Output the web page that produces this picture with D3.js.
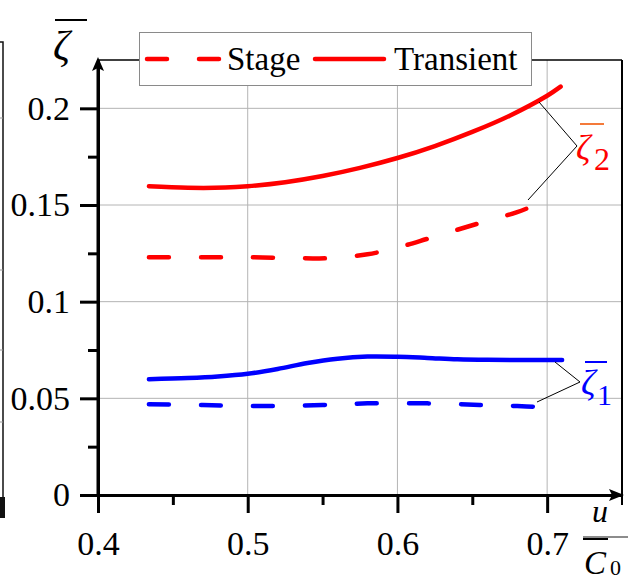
<!DOCTYPE html>
<html>
<head>
<meta charset="utf-8">
<script src="https://cdn.jsdelivr.net/npm/d3@7"></script>
<style>
  body { margin: 0; background: #fff; }
  svg { display: block; }
  svg text { font-family: "Liberation Serif", "Times New Roman", serif; }
</style>
</head>
<body>
<div id="chart-area"></div>
<script>
// values
const xMajor = [0.4, 0.5, 0.6, 0.7];
const xMinor = [0.45, 0.55, 0.65];
const yMajor = [0, 0.05, 0.1, 0.15, 0.2];
const yMinor = [0.025, 0.075, 0.125, 0.175];
const yLabels = ["0", "0.05", "0.1", "0.15", "0.2"];

const transient2X = [0.434, 0.46, 0.485, 0.5, 0.525, 0.55, 0.575, 0.6, 0.625, 0.65, 0.675, 0.7, 0.709];
const transient2Y = [0.1597, 0.1589, 0.159, 0.1597, 0.1618, 0.165, 0.1692, 0.1743, 0.1805, 0.1878, 0.1962, 0.2065, 0.2112];
const stage2X = [0.434, 0.47, 0.5, 0.53, 0.555, 0.58, 0.6, 0.62, 0.64, 0.66, 0.68, 0.6906];
const stage2Y = [0.123, 0.123, 0.123, 0.1226, 0.1225, 0.1245, 0.128, 0.1325, 0.1372, 0.1418, 0.1463, 0.1495];
const transient1X = [0.434, 0.46, 0.48, 0.5, 0.52, 0.54, 0.56, 0.58, 0.6, 0.62, 0.64, 0.66, 0.71];
const transient1Y = [0.0599, 0.0605, 0.0613, 0.0627, 0.0652, 0.0683, 0.0705, 0.0716, 0.0715, 0.0709, 0.0702, 0.0699, 0.0698];
const stage1X = [0.434, 0.47, 0.51, 0.55, 0.58, 0.62, 0.655, 0.68, 0.6966];
const stage1Y = [0.047, 0.0465, 0.046, 0.0465, 0.0474, 0.0474, 0.0466, 0.046, 0.0455];

const W = 637, H = 586;
const svg = d3.select("#chart-area").append("svg")
    .attr("width", W)
    .attr("height", H);

const x = d3.scaleLinear().domain([0.4, 0.75]).range([98, 622]);
const y = d3.scaleLinear().domain([0, 0.225]).range([495, 60]);

// bit of the neighbouring figure on the left edge
svg.append("path").attr("d", "M0,42H3V508").attr("fill", "none").attr("stroke", "#111").attr("stroke-width", 1.5);
svg.append("rect").attr("x", 0).attr("y", 497).attr("width", 5).attr("height", 21).attr("fill", "#111");
[118, 270, 350, 422].forEach(function (v) {
    svg.append("line").attr("x1", 0).attr("x2", 3).attr("y1", v).attr("y2", v).attr("stroke", "#999");
});

// grid
svg.append("g").selectAll("line").data(yMajor.slice(1)).enter().append("line")
    .attr("x1", x(0.4)).attr("x2", x(0.75))
    .attr("y1", d => y(d)).attr("y2", d => y(d))
    .attr("stroke", "#b4b4b4").attr("stroke-width", 1);
svg.append("g").selectAll("line").data(xMajor.slice(1)).enter().append("line")
    .attr("x1", d => x(d)).attr("x2", d => x(d))
    .attr("y1", y(0)).attr("y2", y(0.225))
    .attr("stroke", "#b4b4b4").attr("stroke-width", 1);

// frame top + right
svg.append("line").attr("x1", x(0.4)).attr("x2", x(0.75)).attr("y1", 60).attr("y2", 60)
    .attr("stroke", "#000").attr("stroke-width", 1.5);
svg.append("line").attr("x1", x(0.75)).attr("x2", x(0.75)).attr("y1", 60).attr("y2", 505)
    .attr("stroke", "#000").attr("stroke-width", 2);

// curves
const line = d3.line().x(d => x(d[0])).y(d => y(d[1])).curve(d3.curveCatmullRom.alpha(0.5));
const DASH = "20,32";
function curve(xs, ys, color, dashed) {
    svg.append("path")
        .datum(d3.zip(xs, ys))
        .attr("d", line)
        .attr("fill", "none")
        .attr("stroke", color)
        .attr("stroke-width", 4.5)
        .attr("stroke-linecap", "round")
        .attr("stroke-dasharray", dashed ? DASH : null);
}
curve(transient2X, transient2Y, "#ff0000", false);
curve(stage2X, stage2Y, "#ff0000", true);
curve(transient1X, transient1Y, "#0000ff", false);
curve(stage1X, stage1Y, "#0000ff", true);

// axes
svg.append("g").attr("transform", "translate(0," + y(0) + ")")
    .call(d3.axisBottom(x).tickValues(xMajor).tickSize(18).tickSizeOuter(0).tickPadding(18).tickFormat(d3.format(".1f")));
svg.append("g").attr("transform", "translate(0," + y(0) + ")")
    .call(d3.axisBottom(x).tickValues(xMinor).tickSize(10).tickSizeOuter(0).tickFormat(""));
svg.append("g").attr("transform", "translate(" + x(0.4) + ",0)")
    .call(d3.axisLeft(y).tickValues(yMajor).tickSize(18).tickSizeOuter(0).tickPadding(10).tickFormat((d, i) => yLabels[i]));
svg.append("g").attr("transform", "translate(" + x(0.4) + ",0)")
    .call(d3.axisLeft(y).tickValues(yMinor).tickSize(10).tickSizeOuter(0).tickFormat(""));

svg.selectAll("g").attr("font-family", null).attr("font-size", null);
svg.selectAll(".domain").attr("stroke", "#000").attr("stroke-width", 3);
svg.selectAll(".tick line").attr("stroke", "#000").attr("stroke-width", 3);
svg.selectAll(".tick text")
    .style("font-family", "'Liberation Serif', 'Times New Roman', serif")
    .style("font-size", "34px").attr("fill", "#000");

// extend y axis up to the arrow, arrow heads
svg.append("line").attr("x1", x(0.4)).attr("x2", x(0.4)).attr("y1", y(0)).attr("y2", 66)
    .attr("stroke", "#000").attr("stroke-width", 3);
svg.append("path").attr("d", "M98,57 L104,71 L98,68 L92,71 Z").attr("fill", "#000");
svg.append("path").attr("d", "M624,495 L609,489 L612,495 L609,501 Z").attr("fill", "#000");

// legend
const lg = svg.append("g");
lg.append("rect").attr("x", 139.5).attr("y", 32.5).attr("width", 392).attr("height", 53)
    .attr("fill", "#fff").attr("stroke", "#8a8a8a").attr("stroke-width", 1);
lg.append("line").attr("x1", 147).attr("x2", 219).attr("y1", 59).attr("y2", 59)
    .attr("stroke", "#ff0000").attr("stroke-width", 4.5).attr("stroke-linecap", "round").attr("stroke-dasharray", DASH);
lg.append("text").attr("x", 227).attr("y", 70).attr("font-size", 33).text("Stage");
lg.append("line").attr("x1", 315).attr("x2", 384).attr("y1", 59).attr("y2", 59)
    .attr("stroke", "#ff0000").attr("stroke-width", 4.5).attr("stroke-linecap", "round");
lg.append("text").attr("x", 394).attr("y", 70).attr("font-size", 33).text("Transient");

// y label
svg.append("line").attr("x1", 55).attr("x2", 87).attr("y1", 20).attr("y2", 20).attr("stroke", "#000").attr("stroke-width", 2);
svg.append("text").attr("x", 53).attr("y", 60).attr("font-size", 42).attr("font-style", "italic").text("ζ");

// x label
svg.append("text").attr("x", 592).attr("y", 522).attr("font-size", 32).attr("font-style", "italic").text("u");
svg.append("line").attr("x1", 583).attr("x2", 628).attr("y1", 537).attr("y2", 537).attr("stroke", "#666").attr("stroke-width", 1.5);
svg.append("line").attr("x1", 583).attr("x2", 608).attr("y1", 539).attr("y2", 539).attr("stroke", "#000").attr("stroke-width", 2);
svg.append("text").attr("x", 584).attr("y", 574).attr("font-size", 33).attr("font-style", "italic").text("C");
svg.append("text").attr("x", 610).attr("y", 575).attr("font-size", 22).text("0");

// annotations
const ann = svg.append("g").attr("fill", "none").attr("stroke", "#000").attr("stroke-width", 1);
ann.append("path").attr("d", "M539,102 L577,146 L528,200");
ann.append("path").attr("d", "M555,362 L580,382 L537,402");

svg.append("line").attr("x1", 580).attr("x2", 604).attr("y1", 124).attr("y2", 124).attr("stroke", "#f47a3a").attr("stroke-width", 2);
svg.append("text").attr("x", 576).attr("y", 160).attr("font-size", 36).attr("font-style", "italic").attr("fill", "#ff0000").text("ζ");
svg.append("text").attr("x", 594).attr("y", 170).attr("font-size", 32).attr("fill", "#ff0000").text("2");

svg.append("line").attr("x1", 585).attr("x2", 607).attr("y1", 362).attr("y2", 362).attr("stroke", "#0000ff").attr("stroke-width", 2);
svg.append("text").attr("x", 581).attr("y", 395).attr("font-size", 36).attr("font-style", "italic").attr("fill", "#0000ff").text("ζ");
svg.append("text").attr("x", 597).attr("y", 405).attr("font-size", 30).attr("fill", "#0000ff").text("1");
</script>
</body>
</html>
